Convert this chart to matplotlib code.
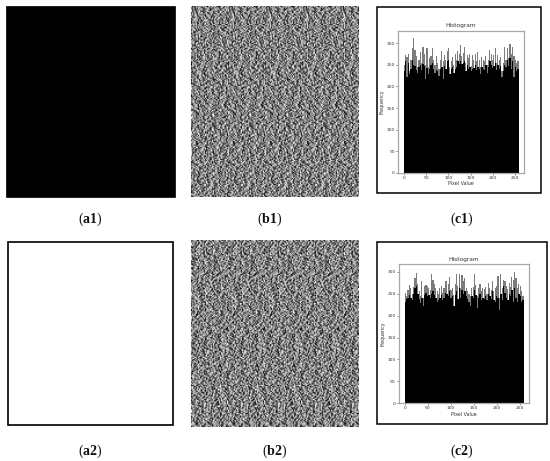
import numpy as np
import matplotlib
matplotlib.use('Agg')
import matplotlib.pyplot as plt
from matplotlib.patches import Rectangle

plt.rcParams['font.family'] = 'DejaVu Sans'
plt.rcParams['mathtext.fontset'] = 'custom'
plt.rcParams['mathtext.rm'] = 'Liberation Serif'
plt.rcParams['mathtext.bf'] = 'Liberation Serif:bold'

W, H = 550, 461

# histogram values, one value per 3 grey levels
peak_c1 = [250, 272, 268, 275, 235, 262, 288, 313, 285, 270, 245, 262, 280, 255, 292, 275,
           250, 290, 245, 265, 270, 290, 262, 250, 270, 255, 240, 262, 282, 258, 272, 262,
           282, 288, 245, 258, 268, 250, 275, 262, 282, 275, 295, 270, 278, 292, 255, 272,
           265, 275, 248, 272, 262, 275, 258, 280, 262, 245, 268, 262, 258, 270, 250, 262,
           285, 275, 262, 272, 290, 255, 272, 262, 268, 235, 255, 292, 262, 288, 265, 298,
           275, 292, 270, 262, 255, 260]
body_c1 = [235, 258, 222, 255, 228, 240, 262, 250, 248, 238, 232, 245, 250, 238, 252, 248,
           218, 242, 228, 240, 250, 255, 240, 232, 238, 235, 225, 240, 245, 218, 248, 240,
           258, 262, 228, 240, 245, 232, 240, 245, 258, 252, 258, 252, 255, 258, 235, 250,
           240, 245, 235, 240, 242, 250, 238, 245, 240, 228, 245, 240, 238, 250, 232, 245,
           258, 250, 242, 248, 255, 238, 250, 240, 248, 222, 235, 250, 245, 262, 248, 265,
           240, 258, 222, 245, 235, 240]
peak_c2 = [252, 245, 258, 270, 262, 250, 265, 285, 298, 272, 255, 245, 280, 240, 268, 270,
           268, 262, 258, 296, 282, 272, 262, 255, 250, 262, 268, 252, 262, 278, 278, 272,
           288, 258, 262, 248, 272, 295, 268, 295, 262, 292, 280, 285, 262, 255, 250, 245,
           262, 265, 295, 270, 245, 262, 272, 255, 262, 260, 265, 250, 275, 262, 258, 280,
           255, 262, 268, 290, 240, 295, 262, 282, 280, 268, 260, 275, 265, 288, 282, 300,
           285, 262, 272, 268, 255, 245]
body_c2 = [232, 238, 240, 248, 240, 235, 250, 262, 268, 250, 238, 228, 240, 222, 248, 252,
           245, 248, 240, 250, 255, 248, 240, 232, 236, 240, 248, 235, 240, 252, 250, 245,
           255, 240, 245, 222, 248, 255, 238, 262, 240, 258, 250, 255, 245, 238, 232, 222,
           245, 240, 258, 248, 218, 240, 250, 235, 240, 238, 245, 235, 250, 245, 238, 255,
           235, 232, 245, 240, 212, 250, 235, 268, 252, 240, 235, 250, 245, 258, 232, 262,
           240, 232, 250, 245, 230, 235]
x_ticks = [0, 50, 100, 150, 200, 250]
y_ticks = [0, 50, 100, 150, 200, 250, 300]

# cipher image texture, hand typed grey levels (hex), estimated from the crops
noise_b1 = [
    '0f3a8c1e7b20d94f6ae1305cf28b7d16',
    'b27e04d9a1f63c85e07b4f92d1a36c08',
    '4c91fe260a7d3b58c1f4e6920d7ba385',
    'e0685b3df19c72a40e8d5b16fa3c9027',
    '19d7a4f08e2b6c35d9170fa4c8e3625b',
    'f36b0c928d41e7a53f06b9d2714ce8a0',
    '7a05e8d3c6194fb2a87d30e5b19f4c62',
    'c4f192b76e038da15cf7294e06ab83d1',
    '38ae6d05f9b4172ce60d8a3f5c91b7e4',
    'd1075cf3a28e9b640fd3b7168ea4c529',
    '6eb94a180d7fc3529ae1064bf7d8328c',
    '02c7f5e39b6a18d47f30c9e5a2418db6',
    'a98d3160ce4f27b5d816ea93c07f5b24',
    '5f2ce7a94b08d163f7a25d0e963cb184',
    'e6149b0d73acf825b04e9c6a1fd3827b',
    '3b80d6f2159e7ca4638fb1d7e0a4296c',
    'c75af0483ed1b9620e5c7a943fb862d1',
    '91e26bd70fa3584cd9b6021f7ec4a358',
    '0d4fb8635c92e17aa3f0e84bd6197c25',
    'f8a3179ec0d64b25718dc5f3a09e2b64',
    '627cd04ea5f1b8399e42073cdb5fa186',
    'b0e95f312c78a6d4f16ba8e04d73c925',
    '4d1683ca9f05e7b2c37e9d15a628f04b',
    'e7fb20946a1dc3580fb4672ec9d1a385',
    '1a5c9ed3708b4f62d8a0f3c5716eb294',
    '86d30fb7e42a915c6e17bd08f49ac352',
    'fc2974a1b6de038541c9e72f0a8d6b35',
    '30b8e6d9154f7ac2fa5360d7c1e942b8',
    'a64d1f02c8e7b39508dfb6a4732ec195',
    '7e92c5b3d06a4f18e4a71c93fb5d0268',
    'd803f7614bc92ea57b26e0d84a39f1c6',
    '2fb64ae81d3705c9a5d9f1372c68be40',
]
noise_b2 = [
    '8d21f60ba74e39c50e9fb3c6281da74f',
    '35ea097cd1f6428ba16d4e0fc97b3528',
    'f07b4c1e839ad256e83c7a19f0d54b62',
    '6c92d5a0f74b1e38c07fe295d3816ab4',
    'a13fe87629d0c54bf6924bd0178ce35a',
    '0e586bc41fa73d92a5d1c78e3640f9b2',
    'db74091ea6c2f3580b7ef3a95c214d86',
    '47c8f2d3950e6ab1d3482c07e9fb615a',
    'e9a05b71c4386fd227f9b64da10c83e5',
    '1632fe8da7b0c9455ca13e0782f6d94b',
    'c05d9a46e21f7b38e80d76f4cb3a9125',
    '7bf3142c08d9e6a591b4ea25d06c7f38',
    '28e6c9fb7035d41aa6f3081c9e5d42b7',
    'f94a17d3ec6285b00d7c5fb2a3e1968c',
    '5d08b3e2961ac74ff2e9417d0b86c3a5',
    'a7c1f6405ebd3829c46a08e5f1d7392b',
    '03e97d2ac8514fb6795db3f20ac8e146',
    'be426f1083d9a7c5e1387c4dbf620a95',
    '6185cad97f30e24bac0f6192e7d5b348',
    'f2d07b3e4a96c15836eb5da0c4197f82',
    '947ea1c605df83b27f21c8943eba60d5',
    '0c36fd8b297e1a54d0b47ea65f38291c',
    'd5a8241ef06c97b3839f1c07d6ea524b',
    '3e710c96bad5f482ec620b5a8f19d743',
    'c8f9e5207da314b6174da8c3f506e92b',
    '72b06df18c4ae93550e39f26b7cd1a84',
    'ea4c389150f7d62bb8f1074ed9a3625c',
    '195fd7b6e2038ca46d2ca85f3e07b914',
    '8036ae4cb91fd7e2f749d16028c5ae3b',
    'f6c21d95783e0ab40a85e3bf764d19c2',
    '4b97e0f3a16cd2853dc20971eb8fa546',
    'a0d58c6274be3f19e6714fa3c02d958b',
]
# sideways slide of each texture row
row_shift = [3, 17, 29, 8, 22, 1, 13, 27, 5, 19, 31, 10, 24, 6, 15, 28, 2, 20, 11, 26,
             7, 30, 14, 4, 23, 9, 18, 25, 0, 12, 21, 16, 31, 6, 19, 2, 27]


def ax_box(x0, y0, x1, y1):
    # axes from a pixel box, y measured from the top of the image
    return fig.add_axes([x0 / W, 1 - y1 / H, (x1 - x0) / W, (y1 - y0) / H])


def frame(x0, y0, x1, y1, lw, fill='none'):
    fig.add_artist(Rectangle((x0 / W, 1 - y1 / H), (x1 - x0) / W, (y1 - y0) / H,
                             transform=fig.transFigure, facecolor=fill,
                             edgecolor='black', linewidth=lw))


def noise_panel(box, tile_rows):
    tile = np.array([[int(c, 16) for c in row] for row in tile_rows])
    # slide each row of the tile sideways so the repeat does not show
    rows = [np.roll(tile[r * 5 % 32], row_shift[r % 37] + r // 7) for r in range(160)]
    ax = ax_box(*box)
    ax.imshow(np.tile(np.array(rows), (1, 5))[:, :145], cmap='gray', aspect='auto',
              interpolation='bilinear', vmin=-1, vmax=16)
    ax.axis('off')


def hist_panel(box, peak, body, xlim, ylim):
    ax = ax_box(*box)
    starts = np.arange(len(peak)) * 3
    ax.bar(starts, peak, width=2.5, align='edge', color='#7c7c7c', linewidth=0)
    ax.bar(starts, body, width=3, align='edge', color='black', linewidth=0)
    ax.set_xlim(*xlim)
    ax.set_ylim(*ylim)
    ax.set_xticks(x_ticks)
    ax.set_yticks(y_ticks)
    ax.tick_params(labelsize=3.2, length=1.2, width=0.4, pad=1, colors='#333333')
    for s in ax.spines.values():
        s.set_color('#a8a8a8')
        s.set_linewidth(0.9)
    ax.set_title('Histogram', fontsize=4.2, pad=2.5, color='#333333')
    ax.set_xlabel('Pixel Value', fontsize=3.4, labelpad=1, color='#333333')
    ax.set_ylabel('Frequency', fontsize=3.4, labelpad=1.5, color='#333333')


fig = plt.figure(figsize=(W / 100, H / 100), dpi=100, facecolor='white')

# first column, flat images
frame(6, 6, 175, 197, 0.5, fill='black')
frame(7.5, 242.5, 172.7, 425, 1.2)

# second column, cipher images
noise_panel((191, 6, 359, 197), noise_b1)
noise_panel((191, 240, 359, 427), noise_b2)

# third column, histograms in a black frame
frame(376.5, 7.5, 540.5, 193.5, 1.1)
frame(376.5, 242, 546.5, 424, 1.1)
hist_panel((398, 30.7, 524, 173), peak_c1, body_c1, (-12.8, 269.7), (0, 329))
hist_panel((398.7, 264.3, 529.3, 403.3), peak_c2, body_c2, (-13, 270), (0, 317))

# panel labels
labels = ['a1', 'b1', 'c1', 'a2', 'b2', 'c2']
label_x = [90, 270, 462, 90, 275, 462]
label_y = [219, 219, 219, 451, 451, 451]
for lab, lx, ly in zip(labels, label_x, label_y):
    fig.text(lx / W, 1 - ly / H, '($\\mathbf{%s}$)' % lab, ha='center', va='center',
             fontsize=10, family='Liberation Serif', color='#111111')

plt.savefig('out.png', dpi=100, facecolor='white')
